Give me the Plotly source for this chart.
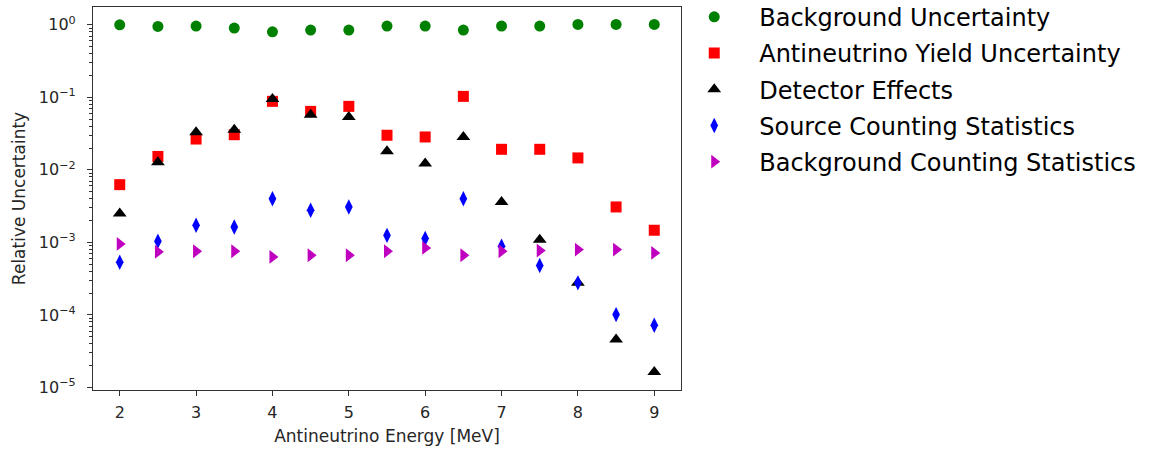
import plotly.graph_objects as go

# Antineutrino energy bins [MeV]
energy = [2.0, 2.5, 3.0, 3.5, 4.0, 4.5, 5.0, 5.5, 6.0, 6.5, 7.0, 7.5, 8.0, 8.5, 9.0]

background_unc = [1.0, 0.95, 0.96, 0.90, 0.80, 0.845, 0.845, 0.96, 0.96, 0.845, 0.96, 0.96, 1.01, 1.01, 1.01]
yield_unc = [0.00625, 0.0153, 0.0266, 0.0305, 0.088, 0.064, 0.075, 0.030, 0.0284, 0.103,
             0.0192, 0.0192, 0.0146, 0.00308, 0.00147]
detector_eff = [0.0025, 0.0127, 0.0329, 0.0358, 0.0947, 0.0576, 0.0535, 0.018, 0.0122, 0.0284,
                0.0036, 0.00109, 0.000277, 4.58e-5, 1.63e-5]
source_stats = [0.000532, 0.00104, 0.00172, 0.00163, 0.0040, 0.00277, 0.00308, 0.00125, 0.00113,
                0.0040, 0.000885, 0.000479, 0.000277, 0.000101, 7.2e-5]
bkg_stats = [0.000953, 0.00074, 0.000755, 0.000755, 0.00063, 0.000665, 0.000665, 0.000755, 0.00084,
             0.000665, 0.000755, 0.00077, 0.000796, 0.000796, 0.000716]

series_names = ["Background Uncertainty", "Antineutrino Yield Uncertainty", "Detector Effects",
                "Source Counting Statistics", "Background Counting Statistics"]

y_tick_vals = [1e0, 1e-1, 1e-2, 1e-3, 1e-4, 1e-5]
y_tick_text = ["10<sup>0</sup>", "10<sup>−1</sup>", "10<sup>−2</sup>", "10<sup>−3</sup>",
               "10<sup>−4</sup>", "10<sup>−5</sup>"]
x_tick_vals = [2, 3, 4, 5, 6, 7, 8, 9]

styles = [
    dict(color="#008000", symbol="circle", size=11),
    dict(color="#ff0000", symbol="square", size=11),
    dict(color="#000000", symbol="triangle-up", size=12),
    dict(color="#0000ff", symbol="diamond-tall", size=11),
    dict(color="#bf00bf", symbol="triangle-right", size=12),
]

fig = go.Figure()
for i, (name, vals, st) in enumerate(zip(series_names,
                                          [background_unc, yield_unc, detector_eff, source_stats, bkg_stats],
                                          styles)):
    fig.add_trace(go.Scatter(
        x=energy, y=vals, mode="markers", name=name, legendgroup=f"g{i}",
        marker=dict(color=st["color"], symbol=st["symbol"], size=st["size"], line=dict(width=0)),
    ))

axis_color = "#333333"
text_color = "#262626"

fig.update_layout(
    width=1153, height=450,
    margin=dict(l=93, r=472, t=7, b=60, autoexpand=False),
    paper_bgcolor="white", plot_bgcolor="white",
    font=dict(family="DejaVu Sans", size=16, color=text_color),
    showlegend=True,
    legend=dict(
        x=0.98, y=1.032, xanchor="left", yanchor="top",
        font=dict(family="DejaVu Sans", size=24, color="#000000"),
        tracegroupgap=2, itemwidth=80, bgcolor="rgba(0,0,0,0)",
    ),
    xaxis=dict(
        range=[1.65, 9.35], tickvals=x_tick_vals, ticks="outside", ticklen=5, tickwidth=1,
        tickcolor=axis_color, showline=True, linecolor=axis_color, linewidth=1.2, mirror=True,
        showgrid=False, zeroline=False, tickfont=dict(size=16), ticklabelstandoff=3,
        title=dict(text="Antineutrino Energy [MeV]", font=dict(size=17, color=text_color), standoff=8),
    ),
    yaxis=dict(
        type="log", range=[-5.035, 0.245], tickvals=y_tick_vals, ticktext=y_tick_text,
        ticks="outside", ticklen=5, tickwidth=1, tickcolor=axis_color,
        showline=True, linecolor=axis_color, linewidth=1.2, mirror=True,
        showgrid=False, zeroline=False, tickfont=dict(size=16), ticklabelstandoff=8,
        minor=dict(ticks="outside", ticklen=3, tickcolor=axis_color, dtick="D1", showgrid=False),
        title=dict(text="Relative Uncertainty", font=dict(size=17, color=text_color), standoff=8),
    ),
)

fig.write_html("out.html")
